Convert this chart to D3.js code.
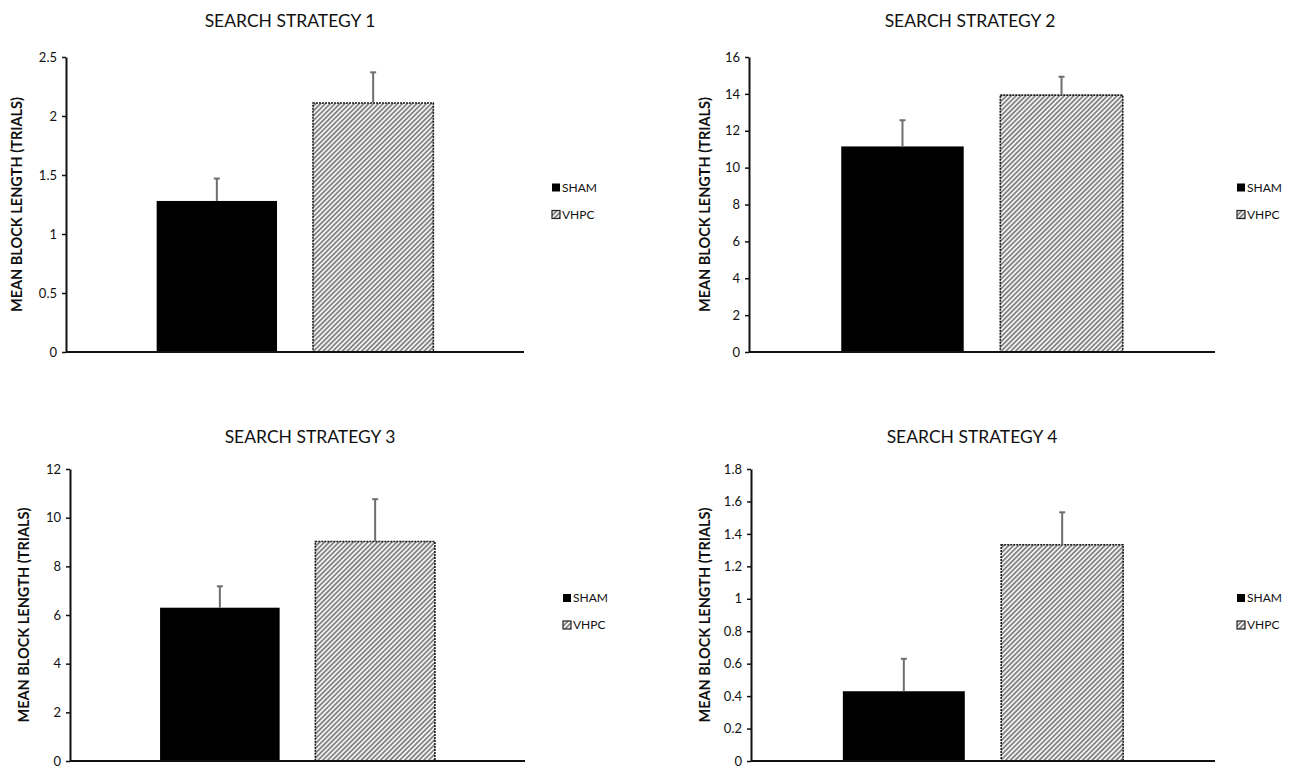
<!DOCTYPE html>
<html lang="en">
  <head>
    <meta charset="UTF-8" />
    <title>Search strategies</title>
    <script src="https://cdn.jsdelivr.net/npm/d3@7"></script>
    <style>
      body { margin: 0; background: #fff; }
      svg { display: block; font-family: Lato, "Open Sans", sans-serif; }
    </style>
  </head>
  <body>
    <svg width="1301" height="769"></svg>
    <script>
      // data
      const groups = ["SHAM", "VHPC"];
      const titles = ["SEARCH STRATEGY 1", "SEARCH STRATEGY 2", "SEARCH STRATEGY 3", "SEARCH STRATEGY 4"];
      const means1 = [1.28, 2.11];
      const errs1 = [0.19, 0.26];
      const means2 = [11.15, 13.93];
      const errs2 = [1.42, 1.0];
      const means3 = [6.3, 9.02];
      const errs3 = [0.88, 1.74];
      const means4 = [0.43, 1.333];
      const errs4 = [0.2, 0.2];
      const yMaxes = [2.5, 16, 12, 1.8];
      const ySteps = [0.5, 2, 2, 0.2];
      const yLabel = "MEAN BLOCK LENGTH (TRIALS)";

      const allMeans = [means1, means2, means3, means4];
      const allErrs = [errs1, errs2, errs3, errs4];

      // layout of each panel (pixels)
      const layout = [
        { x0: 66, x1: 524, top: 57, bottom: 352, titleX: 290, titleY: 27, labelX: 17, legX: 552 },
        { x0: 749, x1: 1215, top: 57, bottom: 352, titleX: 970, titleY: 27, labelX: 705, legX: 1237 },
        { x0: 70, x1: 525, top: 469, bottom: 761, titleX: 310, titleY: 443, labelX: 24, legX: 563 },
        { x0: 751, x1: 1215, top: 469, bottom: 761, titleX: 972, titleY: 443, labelX: 705, legX: 1237 }
      ];

      const svg = d3.select("svg");

      const defs = svg.append("defs");
      const pat = defs.append("pattern")
        .attr("id", "hatch")
        .attr("patternUnits", "userSpaceOnUse")
        .attr("width", 3.4).attr("height", 3.4)
        .attr("patternTransform", "rotate(45)");
      pat.append("rect").attr("width", 3.4).attr("height", 3.4).attr("fill", "#f2f2f2");
      pat.append("rect").attr("width", 1.6).attr("height", 3.4).attr("fill", "#7c7c7c");

      const fmt = d => String(+d.toFixed(1));

      layout.forEach((L, i) => {
        const g = svg.append("g");
        const means = allMeans[i];
        const errs = allErrs[i];

        const x = d3.scaleBand().domain(groups).range([L.x0, L.x1])
          .paddingInner(0.23).paddingOuter(0.58);
        const y = d3.scaleLinear().domain([0, yMaxes[i]]).range([L.bottom, L.top]);

        const ticks = d3.range(0, Math.round(yMaxes[i] / ySteps[i]) + 1).map(k => +(k * ySteps[i]).toFixed(2));

        g.append("text")
          .attr("x", L.titleX).attr("y", L.titleY)
          .attr("text-anchor", "middle")
          .attr("font-size", 17.5)
          .attr("fill", "#111")
          .text(titles[i]);

        g.append("text")
          .attr("transform", `translate(${L.labelX},${(L.top + L.bottom) / 2}) rotate(-90)`)
          .attr("text-anchor", "middle")
          .attr("dy", "0.35em")
          .attr("font-size", 14.5)
          .attr("font-weight", "bold")
          .attr("fill", "#111")
          .text(yLabel);

        // bars
        g.selectAll(".bar").data(groups).join("rect")
          .attr("class", "bar")
          .attr("x", d => x(d))
          .attr("width", x.bandwidth())
          .attr("y", (d, j) => y(means[j]))
          .attr("height", (d, j) => y(0) - y(means[j]))
          .attr("fill", (d, j) => j === 0 ? "#000" : "url(#hatch)")
          .attr("stroke", (d, j) => j === 0 ? "none" : "#1a1a1a")
          .attr("stroke-width", 1.6)
          .attr("stroke-dasharray", (d, j) => j === 0 ? null : "2,1");

        // error bars
        const eg = g.selectAll(".err").data(groups).join("g").attr("class", "err")
          .attr("stroke", "#6e6e6e").attr("stroke-width", 2);
        eg.append("line")
          .attr("x1", d => x(d) + x.bandwidth() / 2).attr("x2", d => x(d) + x.bandwidth() / 2)
          .attr("y1", (d, j) => y(means[j])).attr("y2", (d, j) => y(means[j] + errs[j]));
        eg.append("line")
          .attr("x1", d => x(d) + x.bandwidth() / 2 - 3).attr("x2", d => x(d) + x.bandwidth() / 2 + 3)
          .attr("y1", (d, j) => y(means[j] + errs[j])).attr("y2", (d, j) => y(means[j] + errs[j]));

        // axes
        const yAxis = d3.axisLeft(y).tickValues(ticks).tickFormat(fmt).tickSize(4).tickSizeOuter(0);
        const ya = g.append("g").attr("transform", `translate(${L.x0},0)`).call(yAxis);
        ya.select(".domain").attr("stroke", "#111").attr("stroke-width", 2);
        ya.selectAll(".tick line").attr("stroke", "#111").attr("stroke-width", 1.5);
        ya.selectAll(".tick text").attr("font-size", 13).attr("fill", "#111")
          .attr("font-family", "Lato, sans-serif").attr("x", -9);

        g.append("line")
          .attr("x1", L.x0).attr("x2", L.x1)
          .attr("y1", y(0)).attr("y2", y(0))
          .attr("stroke", "#111").attr("stroke-width", 2);

        // legend
        const legY = (L.top + L.bottom) / 2 - 17;
        const lg = g.selectAll(".leg").data(groups).join("g").attr("class", "leg")
          .attr("transform", (d, j) => `translate(${L.legX},${legY + j * 27})`);
        lg.append("rect")
          .attr("x", 0).attr("y", -4).attr("width", 8).attr("height", 8)
          .attr("fill", (d, j) => j === 0 ? "#000" : "url(#hatch)")
          .attr("stroke", "#222").attr("stroke-width", (d, j) => j === 0 ? 0 : 1.2);
        lg.append("text")
          .attr("x", 10).attr("dy", "0.35em")
          .attr("font-size", 12).attr("fill", "#111")
          .text(d => d);
      });
    </script>
  </body>
</html>
